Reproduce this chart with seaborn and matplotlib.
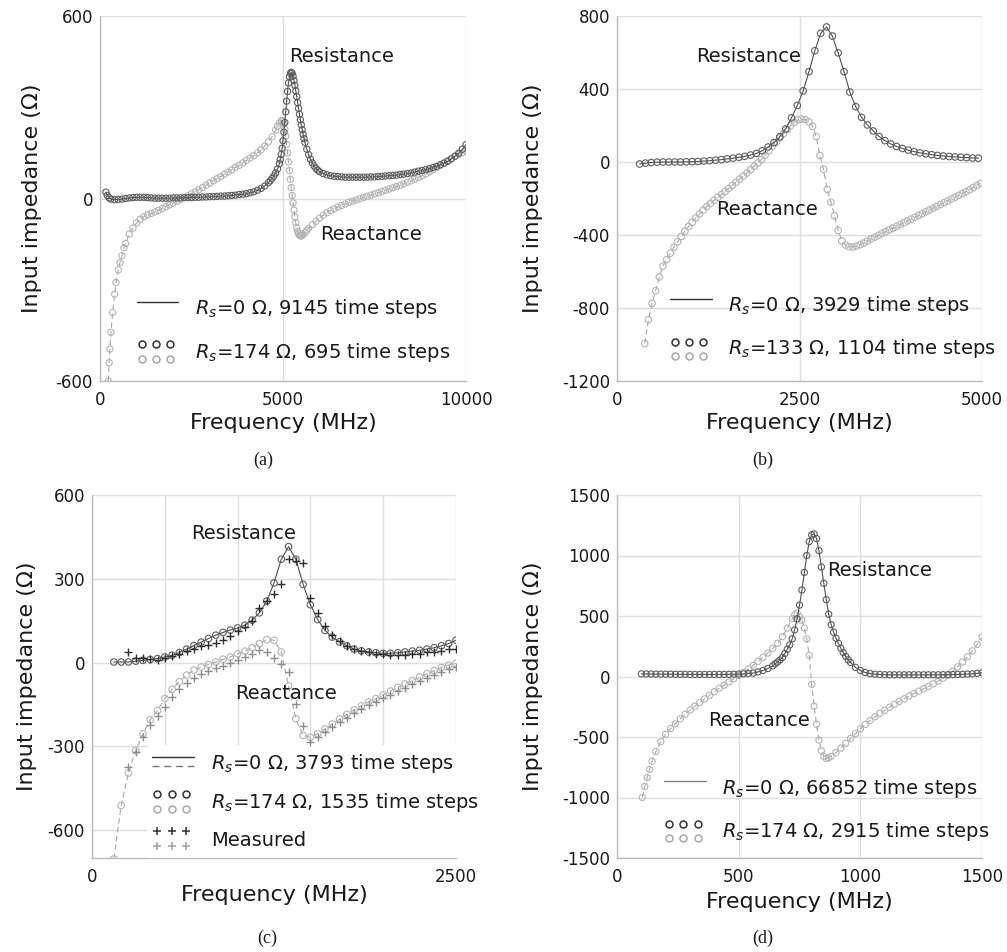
import numpy as np
import matplotlib
matplotlib.use("Agg")
import matplotlib.pyplot as plt
import seaborn as sns
from matplotlib.legend_handler import HandlerBase
from matplotlib.lines import Line2D

# ---------------- Panel (a) ----------------
fa_R = [160, 200, 250, 300, 400, 500, 600, 700, 800, 900,
        1000, 1100, 1200, 1300, 1400, 1500, 1600, 1700, 1800, 1900,
        2000, 2100, 2200, 2300, 2400, 2500, 2600, 2700, 2800, 2900,
        3000, 3100, 3200, 3300, 3400, 3500, 3600, 3700, 3800, 3900,
        4000, 4100, 4200, 4300, 4400, 4500, 4600, 4650, 4700, 4750,
        4800, 4850, 4900, 4925, 4950, 4975, 5000, 5025, 5050, 5075,
        5100, 5125, 5150, 5175, 5200, 5225, 5250, 5275, 5300, 5325,
        5350, 5375, 5400, 5425, 5450, 5475, 5500, 5525, 5550, 5575,
        5600, 5650, 5700, 5750, 5800, 5850, 5900, 5950, 6000, 6100,
        6200, 6300, 6400, 6500, 6600, 6700, 6800, 6900, 7000, 7100,
        7200, 7300, 7400, 7500, 7600, 7700, 7800, 7900, 8000, 8100,
        8200, 8300, 8400, 8500, 8600, 8700, 8800, 8900, 9000, 9100,
        9200, 9300, 9400, 9500, 9600, 9700, 9800, 9900, 10000]
Ra = [21, 10, 2, -2, -4, -3, -2, 0, 2, 3,
      4, 4, 4, 3, 2, 1, 1, 1, 1, 1,
      2, 2, 2, 3, 3, 3, 4, 4, 5, 5,
      6, 6, 7, 8, 8, 9, 10, 11, 13, 14,
      16, 19, 22, 27, 33, 41, 52, 58, 66, 74,
      84, 97, 115, 128, 145, 165, 190, 218, 250, 285,
      320, 352, 380, 400, 411, 415, 412, 402, 388, 372,
      354, 335, 315, 296, 277, 259, 242, 226, 211, 197,
      184, 162, 144, 129, 117, 107, 99, 93, 88, 82,
      78, 75, 73, 72, 71, 70, 70, 70, 70, 70,
      70, 70, 71, 71, 72, 73, 74, 75, 76, 77,
      79, 80, 82, 84, 87, 90, 92, 95, 98, 102,
      106, 111, 116, 122, 130, 139, 149, 162, 177]
fa_X = [227, 250, 270, 300, 345, 400, 436, 500, 545, 600,
        655, 700, 800, 900, 1000, 1100, 1200, 1300, 1400, 1500,
        1600, 1700, 1800, 1900, 2000, 2100, 2200, 2300, 2400, 2500,
        2600, 2700, 2800, 2900, 3000, 3100, 3200, 3300, 3400, 3500,
        3600, 3700, 3800, 3900, 4000, 4100, 4200, 4300, 4400, 4500,
        4600, 4700, 4800, 4850, 4900, 4950, 5000, 5025, 5050, 5075,
        5100, 5125, 5150, 5175, 5200, 5225, 5250, 5275, 5300, 5325,
        5350, 5375, 5400, 5425, 5450, 5475, 5500, 5525, 5550, 5600,
        5650, 5700, 5800, 5900, 6000, 6100, 6200, 6300, 6400, 6500,
        6600, 6700, 6800, 6900, 7000, 7100, 7200, 7300, 7400, 7500,
        7600, 7700, 7800, 7900, 8000, 8100, 8200, 8300, 8400, 8500,
        8600, 8700, 8800, 8900, 9000, 9100, 9200, 9300, 9400, 9500,
        9600, 9700, 9800, 9900, 10000]
Xa = [-600, -540, -495, -440, -375, -315, -276, -235, -211, -188,
      -162, -148, -117, -97, -80, -68, -60, -54, -49, -44,
      -39, -33, -27, -21, -15, -9, -3, 3, 9, 16,
      22, 29, 36, 44, 51, 58, 65, 72, 80, 87,
      94, 102, 109, 117, 125, 133, 141, 150, 160, 172,
      186, 203, 225, 237, 248, 256, 255, 245, 228, 205,
      178, 150, 120, 92, 63, 36, 10, -14, -38, -60,
      -80, -96, -108, -116, -121, -123, -123, -121, -118, -112,
      -105, -98, -86, -75, -64, -55, -47, -40, -34, -28,
      -23, -18, -13, -9, -5, -1, 3, 7, 11, 15,
      19, 23, 27, 31, 35, 39, 43, 48, 53, 58,
      63, 69, 75, 81, 88, 95, 102, 109, 117, 125,
      132, 139, 145, 150, 155]

# ---------------- Panel (b) ----------------
fb_R = [310, 390, 470, 550, 630, 710, 790, 870, 950, 1030,
        1110, 1190, 1270, 1350, 1430, 1510, 1590, 1670, 1750, 1830,
        1910, 1990, 2070, 2150, 2230, 2310, 2390, 2470, 2550, 2630,
        2710, 2790, 2870, 2950, 3030, 3110, 3190, 3270, 3350, 3430,
        3510, 3590, 3670, 3750, 3830, 3910, 3990, 4070, 4150, 4230,
        4310, 4390, 4470, 4550, 4630, 4710, 4790, 4870, 4950]
Rb = [-11, -6, -3, -1, 0, 0, 0, 0, 1, 2,
      3, 5, 7, 10, 13, 17, 21, 26, 31, 38,
      47, 62, 82, 106, 138, 181, 242, 310, 390, 495,
      610, 705, 740, 690, 598, 495, 383, 303, 245, 203,
      170, 140, 117, 99, 85, 74, 65, 57, 50, 45,
      40, 36, 33, 30, 28, 26, 24, 22, 21]
fb_X = [380, 430, 480, 530, 580, 630, 680, 730, 780, 830,
        880, 930, 980, 1030, 1080, 1130, 1180, 1230, 1280, 1330,
        1380, 1430, 1480, 1530, 1580, 1630, 1680, 1730, 1780, 1830,
        1880, 1930, 1980, 2030, 2080, 2130, 2180, 2230, 2280, 2330,
        2380, 2430, 2480, 2530, 2580, 2630, 2680, 2730, 2780, 2830,
        2880, 2930, 2980, 3030, 3080, 3130, 3180, 3230, 3280, 3330,
        3380, 3430, 3480, 3530, 3580, 3630, 3680, 3730, 3780, 3830,
        3880, 3930, 3980, 4030, 4080, 4130, 4180, 4230, 4280, 4330,
        4380, 4430, 4480, 4530, 4580, 4630, 4680, 4730, 4780, 4830,
        4880, 4930, 4980]
Xb = [-995, -865, -775, -705, -630, -570, -535, -500, -467, -437,
      -408, -380, -354, -330, -306, -285, -264, -244, -227, -210,
      -194, -178, -162, -145, -128, -111, -94, -77, -60, -42,
      -23, -5, 14, 38, 62, 86, 108, 132, 155, 177,
      200, 218, 231, 236, 232, 220, 195, 140, 35, -40,
      -150, -220, -295, -375, -432, -455, -464, -466, -460, -453,
      -444, -433, -422, -412, -402, -392, -382, -372, -362, -353,
      -343, -333, -323, -313, -303, -293, -283, -273, -263, -253,
      -243, -233, -223, -213, -203, -193, -183, -173, -163, -153,
      -140, -128, -117]

# ---------------- Panel (c) ----------------
fc = [150, 200, 250, 300, 350, 400, 450, 500, 550, 600,
      650, 700, 750, 800, 850, 900, 950, 1000, 1050, 1100,
      1150, 1200, 1250, 1300, 1350, 1400, 1450, 1500, 1550, 1600,
      1650, 1700, 1750, 1800, 1850, 1900, 1950, 2000, 2050, 2100,
      2150, 2200, 2250, 2300, 2350, 2400, 2450, 2500]
Rc = [2, 2, 2, 5, 8, 11, 14, 20, 26, 36,
      48, 61, 73, 86, 98, 108, 116, 124, 134, 152,
      178, 220, 285, 370, 415, 370, 280, 207, 154, 115,
      91, 74, 60, 48, 42, 38, 35, 33, 33, 35,
      38, 41, 44, 48, 53, 60, 68, 80]
Xc = [-703, -512, -396, -315, -255, -205, -172, -129, -96, -69,
      -45, -27, -16, -7, 2, 12, 20, 31, 41, 53,
      68, 82, 80, 38, -84, -201, -261, -268, -255, -238,
      -220, -202, -186, -170, -155, -141, -129, -116, -102, -89,
      -77, -64, -52, -40, -29, -18, -9, -3]
fm = [250, 300, 350, 400, 450, 500, 550, 600, 650, 700,
      750, 800, 850, 900, 950, 1000, 1050, 1100, 1150, 1200,
      1250, 1300, 1350, 1400, 1450, 1500, 1550, 1600, 1650, 1700,
      1750, 1800, 1850, 1900, 1950, 2000, 2050, 2100, 2150, 2200,
      2250, 2300, 2350, 2400, 2450, 2500]
Rm = [36, 18, 18, 12, 8, 17, 23, 31, 42, 50,
      59, 62, 71, 80, 96, 112, 128, 148, 196, 220,
      244, 283, 370, 364, 355, 232, 179, 130, 98, 76,
      60, 48, 42, 36, 31, 29, 26, 26, 26, 29,
      32, 36, 38, 42, 47, 50]
Xm = [-374, -322, -266, -224, -190, -158, -124, -96, -72, -54,
      -40, -30, -21, -12, -2, 8, 19, 32, 46, 38,
      18, -5, -33, -150, -228, -284, -266, -250, -232, -214,
      -198, -182, -167, -153, -141, -128, -115, -102, -90, -77,
      -65, -54, -43, -33, -24, -17]

# ---------------- Panel (d) ----------------
fd_R = [100, 120, 140, 160, 180, 200, 220, 240, 260, 280,
        300, 320, 340, 360, 380, 400, 420, 440, 460, 480,
        500, 520, 540, 560, 580, 600, 620, 640, 650, 660,
        670, 680, 690, 700, 710, 720, 730, 740, 750, 760,
        770, 780, 790, 800, 810, 820, 830, 840, 850, 860,
        870, 880, 890, 900, 910, 920, 930, 940, 950, 960,
        980, 1000, 1020, 1040, 1060, 1080, 1100, 1120, 1140, 1160,
        1180, 1200, 1220, 1240, 1260, 1280, 1300, 1320, 1340, 1360,
        1380, 1400, 1420, 1440, 1460, 1480, 1500]
Rd = [22, 21, 21, 20, 20, 19, 19, 18, 18, 18,
      17, 17, 17, 17, 17, 17, 17, 17, 18, 19,
      20, 22, 25, 28, 38, 50, 66, 88, 105, 120,
      137, 158, 190, 225, 262, 312, 385, 475, 590, 715,
      860, 1000, 1115, 1170, 1178, 1140, 1040, 905, 770, 635,
      515, 428, 366, 316, 274, 233, 198, 166, 138, 116,
      76, 50, 33, 24, 19, 17, 15, 14, 14, 14,
      14, 14, 14, 14, 14, 14, 14, 14, 15, 15,
      16, 17, 18, 20, 22, 26, 30]
fd_X = [104, 114, 124, 134, 144, 160, 180, 200, 220, 240,
        260, 280, 300, 320, 340, 360, 380, 400, 420, 440,
        460, 480, 500, 520, 540, 560, 580, 600, 620, 640,
        660, 680, 700, 720, 730, 740, 750, 760, 770, 780,
        790, 800, 810, 820, 830, 840, 850, 860, 870, 880,
        900, 920, 940, 960, 980, 1000, 1020, 1040, 1060, 1080,
        1100, 1120, 1140, 1160, 1180, 1200, 1220, 1240, 1260, 1280,
        1300, 1320, 1340, 1360, 1380, 1400, 1420, 1440, 1460, 1480,
        1500]
Xd = [-1000, -908, -835, -768, -700, -620, -540, -478, -430, -391,
      -350, -312, -278, -245, -215, -185, -155, -125, -98, -72,
      -45, -18, 8, 34, 62, 93, 125, 158, 195, 233,
      275, 330, 400, 478, 510, 525, 495, 465, 400, 310,
      175, -65, -245, -395, -525, -615, -660, -678, -672, -660,
      -630, -592, -552, -512, -472, -432, -396, -364, -333, -306,
      -280, -254, -230, -206, -184, -162, -141, -121, -101, -81,
      -60, -38, -14, 13, 44, 80, 120, 163, 212, 265,
      325]

legend_a = [r"$R_s$=0 Ω, 9145 time steps", r"$R_s$=174 Ω, 695 time steps"]
legend_b = [r"$R_s$=0 Ω, 3929 time steps", r"$R_s$=133 Ω, 1104 time steps"]
legend_c = [r"$R_s$=0 Ω, 3793 time steps", r"$R_s$=174 Ω, 1535 time steps", "Measured"]
legend_d = [r"$R_s$=0 Ω, 66852 time steps", r"$R_s$=174 Ω, 2915 time steps"]

# ---------------- style ----------------
sns.set_theme(style="white")
plt.rcParams["font.family"] = ["DejaVu Sans"]
plt.rcParams["mathtext.fontset"] = "dejavusans"

RLINE = "#505050"
XLINE = "#a8a8a8"
RCIRC = "#5e5e5e"
XCIRC = "#b4b4b4"
RPLUS = "#2e2e2e"
XPLUS = "#8e8e8e"
GRID = "#dedede"
SPINE = "#bcbcbc"
TXT = "#1a1a1a"

W, H = 1007, 952
fig = plt.figure(figsize=(W / 100, H / 100), dpi=100)
fig.patch.set_facecolor("white")


def add_ax(l, t, r, b):
    return fig.add_axes([l / W, 1 - b / H, (r - l) / W, (b - t) / H])


class Stack:
    def __init__(self, rows):
        self.rows = rows


class StackHandler(HandlerBase):
    def create_artists(self, legend, orig_handle, xdescent, ydescent,
                       width, height, fontsize, trans):
        arts = []
        x0 = -xdescent
        for row in orig_handle.rows:
            y = -ydescent + row["y"] * height
            if row["kind"] == "line":
                ln = Line2D([x0, x0 + width], [y, y], color=row["color"],
                            lw=row.get("lw", 1.0), ls=row.get("ls", "-"))
            else:
                xs = [x0 + width * f for f in (0.12, 0.46, 0.80)]
                ln = Line2D(xs, [y] * 3, ls="none", marker=row["marker"],
                            ms=row["ms"], mfc="none", mec=row["color"],
                            mew=row.get("mew", 1.1))
            ln.set_transform(trans)
            arts.append(ln)
        return arts


def style_axes(ax, xlim, ylim, xticks, xticklabels, yticks):
    ax.set_xlim(*xlim)
    ax.set_ylim(*ylim)
    ax.set_xticks(xticks)
    ax.set_xticklabels(xticklabels)
    ax.set_yticks(yticks)
    ax.set_yticklabels([str(v) for v in yticks])
    ax.grid(True, color=GRID, lw=1.0)
    ax.set_axisbelow(True)
    for s in ("top", "right"):
        ax.spines[s].set_visible(False)
    for s in ("left", "bottom"):
        ax.spines[s].set_color(SPINE)
        ax.spines[s].set_linewidth(1.0)
    ax.tick_params(axis="both", length=0, labelsize=12, colors=TXT)
    ax.tick_params(axis="x", pad=7)
    ax.tick_params(axis="y", pad=5)
    ax.set_facecolor("white")


def curves(ax, fR, R, fX, X, ms=20):
    sns.lineplot(x=fX, y=X, ax=ax, color=XLINE, lw=0.8, linestyle=(0, (5, 3)),
                 estimator=None, sort=False, zorder=2)
    sns.scatterplot(x=fX, y=X, ax=ax, marker="o", s=ms, facecolor="none",
                    edgecolor=XCIRC, linewidth=0.8, zorder=3)
    sns.lineplot(x=fR, y=R, ax=ax, color=RLINE, lw=0.8, estimator=None,
                 sort=False, zorder=4)
    sns.scatterplot(x=fR, y=R, ax=ax, marker="o", s=ms, facecolor="none",
                    edgecolor=RCIRC, linewidth=0.8, zorder=5)


def labels(ax, ylab_x, xlab_y):
    ax.set_xlabel("Frequency (MHz)", fontsize=16, color=TXT, va="center")
    ax.set_ylabel("Input impedance (Ω)", fontsize=16, color=TXT, va="center")
    ax.xaxis.set_label_coords(0.5, xlab_y)
    ax.yaxis.set_label_coords(ylab_x, 0.5)


def two_row_legend(ax, labs, anchor, line_color, line_y, c1, c2, lspace):
    h1 = Stack([{"kind": "line", "y": line_y, "color": line_color, "lw": 1.0}])
    h2 = Stack([{"kind": "m", "y": c1, "marker": "o", "ms": 5, "color": "#333333"},
                {"kind": "m", "y": c2, "marker": "o", "ms": 5, "color": "#a8a8a8"}])
    ax.legend([h1, h2], labs, handler_map={Stack: StackHandler()},
              loc="lower left", bbox_to_anchor=anchor, frameon=False,
              fontsize=14, handlelength=2.15, handleheight=1.6,
              handletextpad=0.85, labelspacing=lspace, borderpad=0,
              borderaxespad=0, labelcolor=TXT)


# ---------- (a) ----------
ax = add_ax(100, 16, 466, 381)
curves(ax, fa_R, Ra, fa_X, Xa, ms=20)
style_axes(ax, (0, 10000), (-600, 600), [0, 5000, 10000],
           ["0", "5000", "10000"], [-600, 0, 600])
labels(ax, -0.186, -0.115)
ax.text(5164, 466, "Resistance", fontsize=14, color=TXT, va="center", ha="left")
ax.text(6011, -118, "Reactance", fontsize=14, color=TXT, va="center", ha="left")
two_row_legend(ax, legend_a, (0.10, 0.045), "#333333", 0.76, 0.82, 0.24, 0.98)
fig.text(263 / W, 1 - 460 / H, "(a)", family="Liberation Serif", fontsize=13,
         ha="center", va="center", color=TXT)

# ---------- (b) ----------
ax = add_ax(617, 16, 982, 381)
curves(ax, fb_R, Rb, fb_X, Xb, ms=22)
style_axes(ax, (0, 5000), (-1200, 800), [0, 2500, 5000],
           ["0", "2500", "5000"], [-1200, -800, -400, 0, 400, 800])
labels(ax, -0.23, -0.115)
ax.text(1082, 579, "Resistance", fontsize=14, color=TXT, va="center", ha="left")
ax.text(1356, -261, "Reactance", fontsize=14, color=TXT, va="center", ha="left")
two_row_legend(ax, legend_b, (0.145, 0.056), "#333333", 0.73, 0.73, 0.18, 0.93)
fig.text(763 / W, 1 - 460 / H, "(b)", family="Liberation Serif", fontsize=13,
         ha="center", va="center", color=TXT)

# ---------- (c) ----------
ax = add_ax(92, 495, 456, 858)
curves(ax, fc, Rc, fc, Xc, ms=22)
sns.scatterplot(x=fm, y=Xm, ax=ax, marker="+", s=32, color=XPLUS,
                linewidth=1.0, zorder=6)
sns.scatterplot(x=fm, y=Rm, ax=ax, marker="+", s=32, color=RPLUS,
                linewidth=1.0, zorder=7)
style_axes(ax, (0, 2500), (-700, 600), [0, 500, 1000, 1500, 2000, 2500],
           ["0", "", "", "", "", "2500"], [-600, -300, 0, 300, 600])
labels(ax, -0.179, -0.102)
ax.text(678, 462, "Resistance", fontsize=14, color=TXT, va="center", ha="left")
ax.text(982, -111, "Reactance", fontsize=14, color=TXT, va="center", ha="left")
hc1 = Stack([{"kind": "line", "y": 0.73, "color": "#333333", "lw": 1.0},
             {"kind": "line", "y": 0.37, "color": "#777777", "lw": 1.0,
              "ls": (0, (5, 3.5))}])
hc2 = Stack([{"kind": "m", "y": 0.79, "marker": "o", "ms": 5, "color": "#333333"},
             {"kind": "m", "y": 0.21, "marker": "o", "ms": 5, "color": "#a8a8a8"}])
hc3 = Stack([{"kind": "m", "y": 0.85, "marker": "+", "ms": 6, "color": "#333333"},
             {"kind": "m", "y": 0.27, "marker": "+", "ms": 6, "color": "#a0a0a0"}])
leg = ax.legend([hc1, hc2, hc3], legend_c, handler_map={Stack: StackHandler()},
                loc="lower left", bbox_to_anchor=(0.15, -0.001), frameon=True,
                facecolor="white", edgecolor="none", framealpha=1.0,
                fontsize=14, handlelength=2.15, handleheight=1.6,
                handletextpad=0.85, labelspacing=0.70, borderpad=0.3,
                borderaxespad=0, labelcolor=TXT)
leg.get_frame().set_linewidth(0)
fig.text(267 / W, 1 - 938 / H, "(c)", family="Liberation Serif", fontsize=13,
         ha="center", va="center", color=TXT)

# ---------- (d) ----------
ax = add_ax(617, 495, 982, 858)
curves(ax, fd_R, Rd, fd_X, Xd, ms=20)
style_axes(ax, (0, 1500), (-1500, 1500), [0, 500, 1000, 1500],
           ["0", "500", "1000", "1500"], [-1500, -1000, -500, 0, 500, 1000, 1500])
labels(ax, -0.23, -0.121)
ax.text(862, 875, "Resistance", fontsize=14, color=TXT, va="center", ha="left")
ax.text(375, -363, "Reactance", fontsize=14, color=TXT, va="center", ha="left")
two_row_legend(ax, legend_d, (0.129, 0.042), "#808080", 0.76, 0.76, 0.21, 0.93)
fig.text(763 / W, 1 - 938 / H, "(d)", family="Liberation Serif", fontsize=13,
         ha="center", va="center", color=TXT)

fig.savefig("out.png", dpi=100, facecolor="white")
